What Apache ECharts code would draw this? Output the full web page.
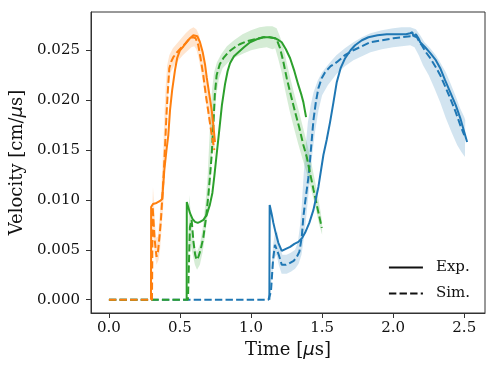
<!DOCTYPE html>
<html>
<head>
<meta charset="utf-8">
<script src="https://cdn.jsdelivr.net/npm/echarts@6/dist/echarts.min.js"></script>
<style>html,body{margin:0;padding:0;background:#fff}#c{width:498px;height:374px}</style>
</head>
<body>
<div id="c"></div>
<script>
// ---- tick labels ----
const xTicks = [0, 0.5, 1.0, 1.5, 2.0, 2.5];
const yTicks = [0, 0.005, 0.010, 0.015, 0.020, 0.025];

// ---- Orange (case 1) ----
const tOrangeExp = [0.296,0.297,0.31,0.335,0.36,0.375,0.39,0.405,0.418,0.43,0.445,0.465,0.48,0.5,0.525,0.547,0.57,0.594,0.608,0.622,0.641,0.66,0.676,0.688,0.705,0.723,0.735,0.746];
const vOrangeExp = [0,0.0093,0.0096,0.0097,0.0099,0.0101,0.013,0.015,0.0165,0.019,0.021,0.023,0.0242,0.025,0.0254,0.0258,0.0262,0.0265,0.0266,0.0264,0.0258,0.0248,0.0236,0.0223,0.0207,0.019,0.0175,0.0158];
const tOrangeSim = [0,0.303,0.308,0.322,0.335,0.345,0.355,0.365,0.377,0.387,0.397,0.406,0.415,0.425,0.44,0.453,0.48,0.512,0.54,0.57,0.594,0.61,0.629,0.645,0.664,0.682,0.70,0.715,0.73,0.742];
const vOrangeSim = [0,0,0.0093,0.006,0.0043,0.0048,0.0062,0.0078,0.0105,0.013,0.016,0.0188,0.021,0.0232,0.0239,0.0243,0.0248,0.0253,0.0257,0.0262,0.0263,0.0262,0.0255,0.0242,0.0225,0.0205,0.0188,0.0173,0.016,0.015];
const orangeBandUpper = [[0.30,0],[0.303,0.008],[0.31,0.0113],[0.318,0.0095],[0.33,0.0062],[0.345,0.0063],[0.36,0.009],[0.372,0.012],[0.383,0.0155],[0.392,0.019],[0.40,0.0215],[0.41,0.0235],[0.425,0.0245],[0.45,0.0252],[0.48,0.0257],[0.51,0.0262],[0.54,0.0267],[0.57,0.0271],[0.595,0.0273],[0.615,0.0271],[0.635,0.0265],[0.65,0.0255],[0.67,0.0237],[0.69,0.0217],[0.71,0.0197],[0.73,0.0178],[0.745,0.016]];
const orangeBandLower = [[0.30,0],[0.31,0.0075],[0.322,0.0045],[0.335,0.0035],[0.35,0.004],[0.36,0.005],[0.37,0.007],[0.383,0.0095],[0.393,0.0125],[0.402,0.016],[0.41,0.0185],[0.42,0.0215],[0.435,0.0228],[0.46,0.0235],[0.49,0.024],[0.52,0.0245],[0.55,0.0249],[0.58,0.0253],[0.60,0.0254],[0.615,0.0251],[0.63,0.0243],[0.65,0.0228],[0.67,0.021],[0.69,0.019],[0.71,0.0172],[0.73,0.0155],[0.745,0.0143]];

// ---- Green (case 2) ----
const tGreenExp = [0.547,0.548,0.558,0.57,0.588,0.606,0.625,0.641,0.665,0.688,0.71,0.728,0.742,0.756,0.775,0.795,0.817,0.835,0.852,0.88,0.911,0.95,0.993,1.04,1.087,1.13,1.169,1.195,1.216,1.245,1.275,1.305,1.333,1.355,1.368,1.387];
const vGreenExp = [0,0.0098,0.0093,0.0087,0.0081,0.0078,0.0077,0.0078,0.008,0.0085,0.0095,0.0107,0.0124,0.0143,0.0168,0.0195,0.0216,0.0229,0.0237,0.0244,0.0248,0.0253,0.0258,0.0261,0.0263,0.0263,0.0262,0.026,0.0258,0.0251,0.0242,0.0229,0.0215,0.0205,0.0198,0.0183];
const tGreenSim = [0,0.556,0.56,0.57,0.582,0.595,0.607,0.617,0.63,0.645,0.664,0.683,0.70,0.712,0.723,0.735,0.745,0.758,0.78,0.805,0.84,0.876,0.92,0.97,1.03,1.087,1.13,1.169,1.185,1.204,1.225,1.251,1.28,1.31,1.34,1.368,1.392,1.415,1.44,1.47,1.498];
const vGreenSim = [0,0,0.002,0.0073,0.008,0.0058,0.0045,0.004,0.0043,0.005,0.0062,0.0082,0.0105,0.0125,0.0145,0.0175,0.0205,0.0225,0.0236,0.0242,0.0248,0.0252,0.0256,0.0259,0.0261,0.0263,0.0263,0.0262,0.0259,0.0252,0.024,0.0222,0.0205,0.0188,0.0172,0.0155,0.0143,0.0127,0.011,0.009,0.0072];
const greenBandUpper = [[0.555,0],[0.558,0.006],[0.565,0.0105],[0.575,0.0088],[0.59,0.0068],[0.605,0.0052],[0.62,0.0048],[0.64,0.0055],[0.66,0.0072],[0.68,0.0098],[0.695,0.0125],[0.705,0.0155],[0.715,0.0185],[0.725,0.021],[0.74,0.0228],[0.76,0.0238],[0.79,0.0246],[0.83,0.0254],[0.88,0.026],[0.94,0.0266],[1.0,0.027],[1.06,0.0273],[1.11,0.0274],[1.15,0.0274],[1.18,0.0272],[1.2,0.0265],[1.225,0.0255],[1.25,0.0238],[1.28,0.022],[1.31,0.0203],[1.34,0.0187],[1.37,0.017],[1.40,0.0153],[1.43,0.0133],[1.46,0.0112],[1.49,0.0088],[1.50,0.0078]];
const greenBandLower = [[0.555,0],[0.565,0.0055],[0.575,0.0055],[0.59,0.0045],[0.605,0.0035],[0.62,0.003],[0.64,0.0035],[0.66,0.0048],[0.68,0.0068],[0.70,0.0092],[0.712,0.0115],[0.725,0.0145],[0.74,0.0175],[0.755,0.0205],[0.775,0.0222],[0.80,0.0232],[0.84,0.0238],[0.89,0.0243],[0.95,0.0247],[1.0,0.025],[1.06,0.0252],[1.11,0.0253],[1.15,0.0251],[1.17,0.0252],[1.19,0.0242],[1.215,0.0228],[1.24,0.021],[1.27,0.019],[1.30,0.0173],[1.33,0.0157],[1.36,0.0142],[1.39,0.0128],[1.42,0.0112],[1.45,0.0095],[1.48,0.0075],[1.50,0.0065]];

// ---- Blue (case 3) ----
const tBlueExp = [1.129,1.131,1.145,1.157,1.175,1.192,1.216,1.245,1.275,1.305,1.333,1.36,1.38,1.41,1.439,1.474,1.509,1.532,1.556,1.58,1.603,1.63,1.662,1.70,1.732,1.78,1.826,1.89,1.955,2.0,2.049,2.09,2.12,2.135,2.142,2.15,2.16,2.167,2.178,2.19,2.225,2.261,2.3,2.331,2.365,2.401,2.44,2.472,2.50,2.52];
const vBlueExp = [0,0.0095,0.0086,0.0077,0.0066,0.0057,0.0049,0.0051,0.0053,0.0056,0.0058,0.0062,0.0067,0.0077,0.009,0.0113,0.0145,0.016,0.0178,0.0198,0.0218,0.0232,0.0242,0.025,0.0255,0.026,0.0263,0.0265,0.0266,0.0266,0.0266,0.0266,0.0267,0.0268,0.0264,0.0262,0.0266,0.0268,0.0262,0.0258,0.0253,0.0247,0.024,0.0232,0.022,0.0208,0.0195,0.0182,0.0168,0.0158];
const tBlueSim = [0,1.122,1.14,1.155,1.168,1.181,1.195,1.216,1.245,1.275,1.30,1.322,1.34,1.357,1.368,1.38,1.392,1.404,1.415,1.427,1.439,1.456,1.474,1.497,1.521,1.56,1.603,1.66,1.72,1.78,1.838,1.92,2.002,2.06,2.12,2.15,2.167,2.185,2.201,2.23,2.261,2.30,2.331,2.365,2.401,2.44,2.472,2.50];
const vBlueSim = [0,0,0.0008,0.004,0.0055,0.0057,0.0045,0.0035,0.0035,0.0037,0.0039,0.0043,0.0048,0.0063,0.0083,0.0097,0.011,0.0123,0.014,0.016,0.018,0.0198,0.0212,0.0222,0.0228,0.0234,0.0238,0.0245,0.025,0.0254,0.0258,0.026,0.0262,0.0263,0.0264,0.0264,0.0263,0.0258,0.0255,0.0248,0.0242,0.0233,0.0225,0.0214,0.0202,0.0188,0.0175,0.0165];
const blueBandUpper = [[1.12,0],[1.14,0.0025],[1.155,0.0055],[1.17,0.0068],[1.185,0.0068],[1.2,0.0055],[1.22,0.0045],[1.25,0.0045],[1.28,0.0047],[1.31,0.005],[1.33,0.0058],[1.345,0.0075],[1.357,0.0095],[1.37,0.0125],[1.385,0.0155],[1.40,0.0178],[1.42,0.0195],[1.44,0.0208],[1.47,0.022],[1.50,0.0228],[1.55,0.0237],[1.6,0.0245],[1.66,0.0252],[1.72,0.0258],[1.78,0.0263],[1.84,0.0267],[1.92,0.027],[2.0,0.0272],[2.06,0.0273],[2.12,0.0273],[2.16,0.0271],[2.19,0.0265],[2.22,0.0258],[2.26,0.0252],[2.30,0.0245],[2.33,0.0238],[2.37,0.0228],[2.40,0.0218],[2.44,0.0204],[2.47,0.0192],[2.50,0.0183],[2.507,0.018]];
const blueBandLower = [[1.125,0],[1.15,0.0025],[1.165,0.0042],[1.18,0.0045],[1.195,0.0035],[1.215,0.0026],[1.25,0.0026],[1.28,0.0028],[1.31,0.0031],[1.335,0.0036],[1.355,0.0045],[1.37,0.006],[1.385,0.0078],[1.40,0.01],[1.415,0.012],[1.43,0.0145],[1.45,0.0168],[1.475,0.019],[1.50,0.0205],[1.54,0.0215],[1.6,0.0226],[1.66,0.0234],[1.72,0.024],[1.78,0.0244],[1.84,0.0248],[1.92,0.0251],[2.0,0.0253],[2.06,0.0254],[2.12,0.0255],[2.15,0.0253],[2.18,0.0245],[2.21,0.0235],[2.25,0.0225],[2.29,0.0212],[2.33,0.0198],[2.37,0.0182],[2.41,0.0168],[2.45,0.0155],[2.48,0.0148],[2.505,0.0143]];

const C_BLUE = '#1f77b4', C_ORANGE = '#ff7f0e', C_GREEN = '#2ca02c';
const FONT = 'DejaVu Serif';
const DASH = [7.4, 3.2];

function zip(t, v) { return t.map((x, i) => [x, v[i]]); }

function band(upper, lower, color) {
  const poly = upper.concat(lower.slice().reverse());
  return {
    type: 'custom', silent: true, z: 1,
    data: poly, encode: { x: 0, y: 1 },
    renderItem: function (params, api) {
      if (params.dataIndex !== 0) return null;
      return {
        type: 'polygon',
        shape: { points: poly.map(p => api.coord(p)) },
        style: { fill: color, opacity: 0.2 }
      };
    }
  };
}
function line(t, v, color, dashed) {
  return {
    type: 'line', data: zip(t, v), showSymbol: false, symbol: 'none', z: 3,
    silent: true, animation: false,
    lineStyle: { color: color, width: 2, type: dashed ? DASH : 'solid' }
  };
}

const chart = echarts.init(document.getElementById('c'), null, { renderer: 'canvas' });
chart.setOption({
  animation: false,
  backgroundColor: '#fff',
  grid: { left: 91, right: 13, top: 12, bottom: 61, show: true, borderColor: '#333', borderWidth: 1 },
  xAxis: {
    type: 'value', min: -0.126, max: 2.646,
    axisLine: { show: true, onZero: false, lineStyle: { color: '#333', width: 1 } },
    axisTick: { show: true, length: 5, lineStyle: { color: '#333' }, customValues: xTicks },
    axisLabel: { customValues: xTicks, formatter: v => v.toFixed(1), fontFamily: FONT, fontSize: 15, color: '#111', margin: 8 },
    splitLine: { show: false },
    name: 'Time [{i|μ}s]', nameLocation: 'middle', nameGap: 20,
    nameTextStyle: { fontFamily: FONT, fontSize: 18, color: '#111', rich: { i: { fontStyle: 'italic', fontFamily: 'DejaVu Sans', fontSize: 18, color: '#111' } } }
  },
  yAxis: {
    type: 'value', min: -0.00133, max: 0.02883,
    axisLine: { show: true, onZero: false, lineStyle: { color: '#333', width: 1 } },
    axisTick: { show: true, length: 5, lineStyle: { color: '#333' }, customValues: yTicks },
    axisLabel: { customValues: yTicks, formatter: v => v.toFixed(3), fontFamily: FONT, fontSize: 15, color: '#111', margin: 11 },
    splitLine: { show: false },
    name: 'Velocity [cm/{i|μ}s]', nameLocation: 'middle', nameGap: 54,
    nameTextStyle: { fontFamily: FONT, fontSize: 18, color: '#111', rich: { i: { fontStyle: 'italic', fontFamily: 'DejaVu Sans', fontSize: 18, color: '#111' } } }
  },
  legend: {
    orient: 'vertical', right: 23, top: 255, itemWidth: 34, itemHeight: 12, itemGap: 11,
    textStyle: { fontFamily: FONT, fontSize: 15, color: '#111', padding: [0, 0, 0, 8] },
    data: [
      { name: 'Exp.', itemStyle: { color: 'rgba(0,0,0,0)', borderWidth: 0 } },
      { name: 'Sim.', itemStyle: { color: 'rgba(0,0,0,0)', borderWidth: 0 } }
    ]
  },
  series: [
    band(blueBandUpper, blueBandLower, C_BLUE),
    band(greenBandUpper, greenBandLower, C_GREEN),
    band(orangeBandUpper, orangeBandLower, C_ORANGE),
    line(tBlueSim, vBlueSim, C_BLUE, true),
    line(tGreenSim, vGreenSim, C_GREEN, true),
    line(tOrangeSim, vOrangeSim, C_ORANGE, true),
    line(tBlueExp, vBlueExp, C_BLUE, false),
    line(tGreenExp, vGreenExp, C_GREEN, false),
    line(tOrangeExp, vOrangeExp, C_ORANGE, false),
    { name: 'Exp.', type: 'line', data: [], symbol: 'none', lineStyle: { color: '#111', width: 2, type: 'solid' }, itemStyle: { color: '#111' } },
    { name: 'Sim.', type: 'line', data: [], symbol: 'none', lineStyle: { color: '#111', width: 2, type: DASH }, itemStyle: { color: '#111' } }
  ]
});
</script>
</body>
</html>
